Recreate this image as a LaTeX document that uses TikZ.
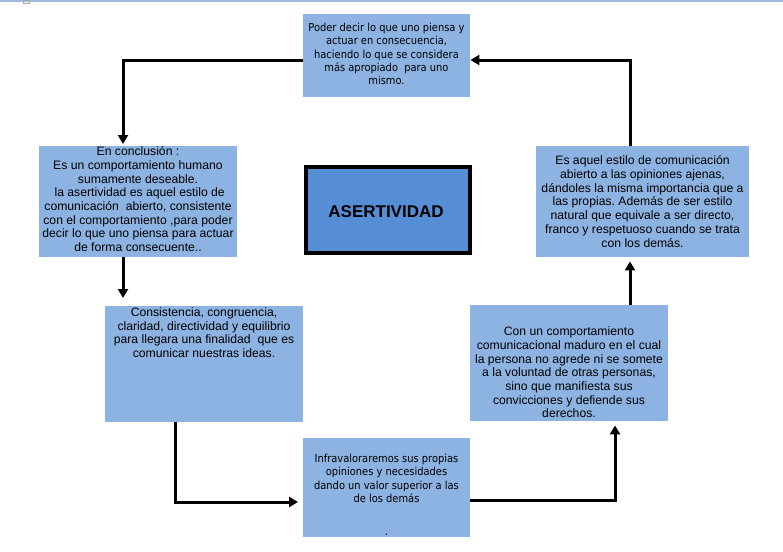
\documentclass[tikz,border=0pt]{standalone}
\usepackage{fontspec}
\setmainfont{Liberation Sans}
\newfontfamily\tahfont{DejaVu Sans Condensed}
\usetikzlibrary{arrows.meta}
\definecolor{boxblue}{HTML}{8DB3E2}
\definecolor{midblue}{HTML}{558ED5}
\definecolor{barblue}{HTML}{9BBBE0}
\frenchspacing
\tikzset{
  box/.style={fill=boxblue, draw=none, anchor=north west, inner sep=0pt},
  txt/.style={align=center, inner sep=0pt, font=\fontsize{12.2}{13.7}\selectfont},
  ttxt/.style={align=center, inner sep=0pt, font=\tahfont\fontsize{11}{13.3}\selectfont},
  conn/.style={line width=3pt, -{Triangle[width=10pt,length=9pt]}},
}
\begin{document}
\begin{tikzpicture}[x=1pt,y=-1pt]
\useasboundingbox (0,0) rectangle (783,551);
\fill[white] (0,0) rectangle (783,551);
% top bar
\fill[barblue] (0,0) rectangle (783,2.5);
\draw[gray!70, line width=0.6pt] (23.5,0) rectangle (29,3);
% boxes
\node[box, minimum width=167pt, minimum height=83pt] (btop) at (303,14) {};
\node[box, minimum width=198pt, minimum height=111pt] (bleft) at (39,146) {};
\node[box, minimum width=213pt, minimum height=111pt] (bright) at (536,146) {};
\node[box, minimum width=198pt, minimum height=116pt] (bll) at (105,306) {};
\node[box, minimum width=198pt, minimum height=116pt] (blr) at (470,305) {};
\node[box, minimum width=167pt, minimum height=99pt] (bbot) at (303,438) {};
\node[fill=midblue, draw=black, line width=4pt, minimum width=164pt, minimum height=86pt, anchor=north west, inner sep=0pt] (bmid) at (304,165) {};
% texts
\node[ttxt, anchor=center] (ttop) at (386.5,54) {Poder decir lo que uno piensa y\\actuar en consecuencia,\\haciendo lo que se considera\\más apropiado\ \ para uno\\mismo.};
\node[txt, anchor=north] (tleft) at (138,146.5) {En conclusión :\\Es un comportamiento humano\\sumamente deseable.\\\ la asertividad es aquel estilo de\\comunicación\ \ abierto, consistente\\con el comportamiento ,para poder\\decir lo que uno piensa para actuar\\de forma consecuente..};
\node[txt, anchor=center] (tright) at (642.5,201.5) {Es aquel estilo de comunicación\\abierto a las opiniones ajenas,\\dándoles la misma importancia que a\\las propias. Además de ser estilo\\natural que equivale a ser directo,\\franco y respetuoso cuando se trata\\con los demás.};
\node[txt, anchor=north] (tll) at (204,307.5) {Consistencia, congruencia,\\claridad, directividad y equilibrio\\para llegara una finalidad\ \ que es\\comunicar nuestras ideas.};
\node[txt, anchor=center] (tlr) at (569,372.5) {Con un comportamiento\\comunicacional maduro en el cual\\la persona no agrede ni se somete\\a la voluntad de otras personas,\\sino que manifiesta sus\\convicciones y defiende sus\\derechos.};
\node[ttxt, anchor=north] (tbot) at (386.5,454) {Infravaloraremos sus propias\\opiniones y necesidades\\dando un valor superior a las\\de los demás\\[20pt].};
\node[font=\bfseries\fontsize{17}{20}\selectfont, inner sep=0pt] (tmid) at (386,212) {ASERTIVIDAD};
% connector corners
\coordinate (k1) at (123,60);
\coordinate (k2) at (630,60);
\coordinate (k3) at (123,300);
\coordinate (k4) at (175,502);
\coordinate (k5) at (615,500);
% connectors
\draw[conn, shorten >=2pt] (btop.west |- k1) -- (k1) -- (k1 |- bleft.north);
\draw[conn] (k2 |- bright.north) -- (k2) -- (btop.east |- k2);
\draw[conn, shorten >=8pt] (k3 |- bleft.south) -- (k3 |- bll.north);
\draw[conn, shorten >=5pt] (k4 |- bll.south) -- (k4) -- (bbot.west |- k4);
\draw[conn, shorten >=4pt] (bbot.east |- k5) -- (k5) -- (k5 |- blr.south);
\draw[conn, shorten >=4pt] (k2 |- blr.north) -- (k2 |- bright.south);
\end{tikzpicture}
\end{document}
